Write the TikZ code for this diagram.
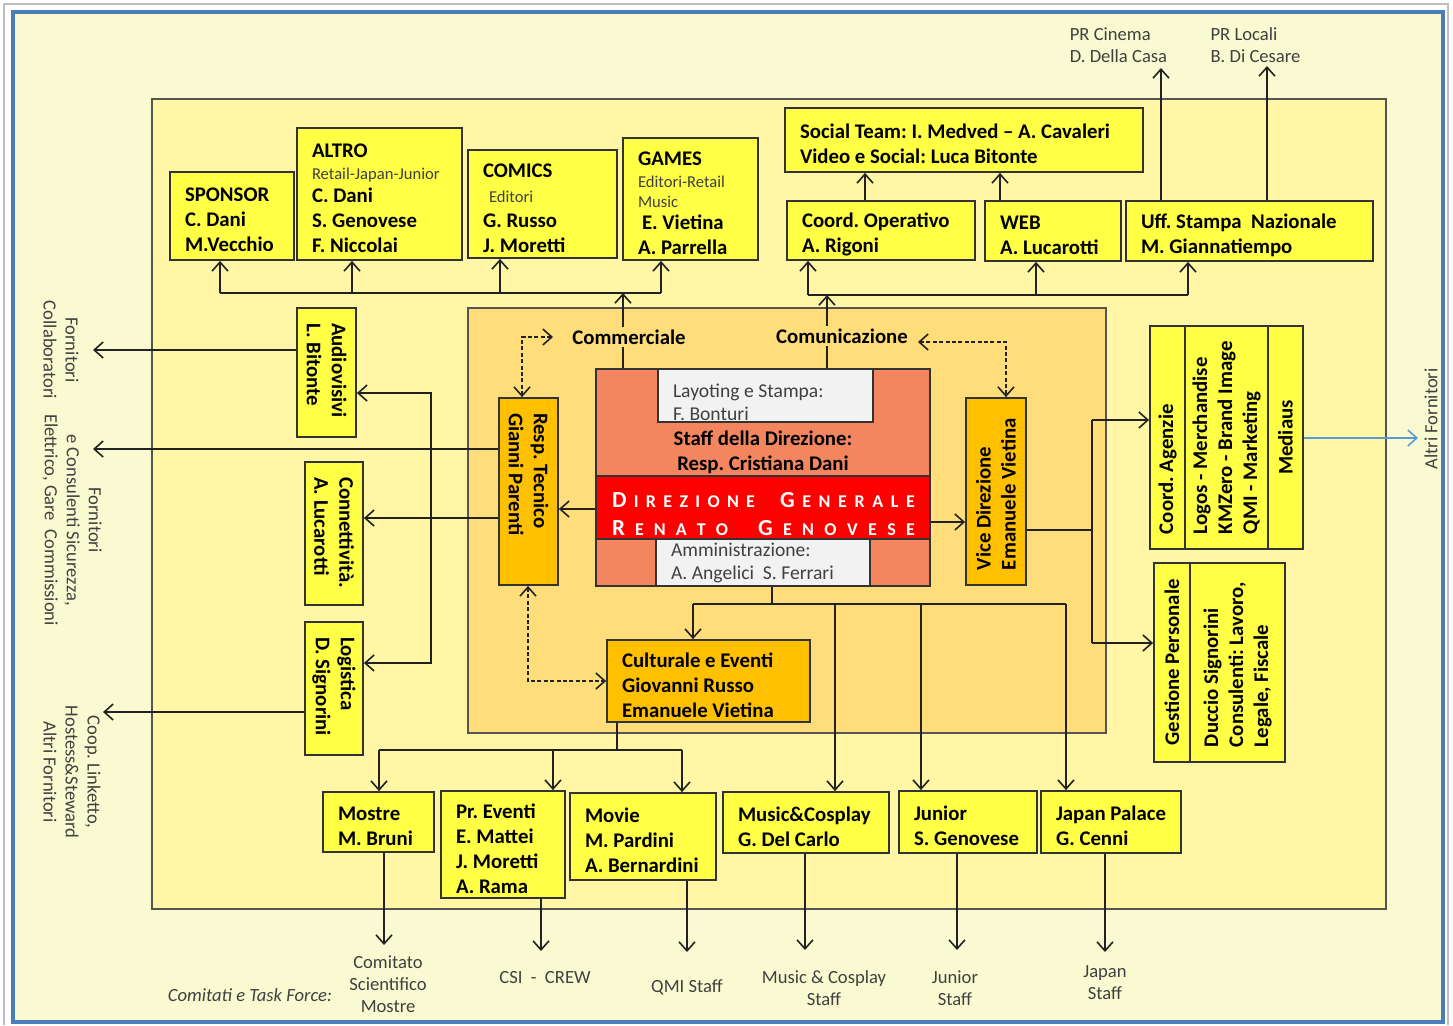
\documentclass[tikz,border=0pt]{standalone}
\usepackage{fontspec}
\setmainfont{Carlito}
\usetikzlibrary{arrows.meta,calc}
\frenchspacing
\definecolor{bgc}{HTML}{FAFAD2}
\definecolor{mainc}{HTML}{FFF6A6}
\definecolor{innc}{HTML}{FFDD7B}
\definecolor{yb}{HTML}{FFFF45}
\definecolor{ob}{HTML}{FFC000}
\definecolor{salm}{HTML}{F4865F}
\definecolor{redc}{HTML}{FF0000}
\definecolor{gy}{HTML}{F2F2F2}
\definecolor{lc}{HTML}{333333}
\definecolor{lk}{HTML}{222222}
\definecolor{tg}{HTML}{404040}
\definecolor{bordc}{HTML}{4A7EBB}
\definecolor{bl}{HTML}{5B9BD5}
\definecolor{mb}{HTML}{555555}
\newcommand\ftbold{\fontsize{10.4}{12.5}\selectfont\bfseries}
\newcommand\ftsmall{\fontsize{8.3}{10}\selectfont\mdseries\color{tg}}
\newcommand\ftgray{\fontsize{9.8}{11.5}\selectfont}
\newcommand\ftlab{\fontsize{9.3}{11}\selectfont}
\newcommand\bx[2]{\parbox{#1}{\raggedright\leftskip=7.5pt\relax #2\par\vskip-4pt}}
\newcommand\bxn[2]{\parbox{#1}{\raggedright\leftskip=7.5pt\relax #2}}
\newcommand\bxb[3]{\parbox[c][#2][b]{#1}{\raggedright\leftskip=7.5pt\relax #3}}
\newcommand\rotl[3]{\rotatebox{#1}{\parbox{#2}{\raggedright\leftskip=7.5pt\relax #3}}}
\newcommand\rotc[3]{\rotatebox{#1}{\parbox{#2}{\centering #3}}}
\newcommand\bigL[1]{{\fontsize{11.5}{14}\selectfont #1}}
\tikzset{
 con/.style={draw=lk, line width=0.8pt},
 arr/.style={con, ->},
 darr/.style={con, dash pattern=on 2pt off 1.2pt, <->},
 barr/.style={draw=bl, line width=0.8pt, ->},
 ybox/.style={draw=lc, line width=0.9pt, fill=yb, inner sep=0pt, font=\ftbold},
 obox/.style={ybox, fill=ob},
 gbox/.style={ybox, fill=gy, font=\ftgray, text=tg},
 lab/.style={font=\ftlab, text=tg, inner sep=1pt},
 blab/.style={font=\ftbold, inner sep=1pt},
}
\begin{document}
\begin{tikzpicture}[x=0.5pt,y=-0.5pt,>={Straight Barb[length=4.5pt,width=8pt]}]
\useasboundingbox (0,0) rectangle (1453,1025);
\fill[white] (0,0) rectangle (1453,1025);
\draw[black!25, line width=0.6pt] (4,1025) -- (4,4) -- (1448,4) -- (1448,1025);
\draw[bordc, line width=1.6pt, fill=bgc] (13,12) rectangle (1443,1022);

% containers
\node[draw=mb, line width=1pt, fill=mainc, minimum width=617pt, minimum height=405pt, inner sep=0pt] (main) at (769,504) {};
\node[draw=mb, line width=1pt, fill=innc, minimum width=319pt, minimum height=212.5pt, inner sep=0pt] (inner) at (787,520.5) {};

% top boxes
\node[ybox, minimum width=62pt, minimum height=44pt] (sponsor) at (232,216) {\bx{62pt}{SPONSOR\\C. Dani\\M.Vecchio}};
\node[ybox, minimum width=82.5pt, minimum height=66pt] (altro) at (379.5,194) {\bx{82.5pt}{ALTRO\\[-1.2pt]{\ftsmall Retail-Japan-Junior}\\[-1.2pt]C. Dani\\S. Genovese\\F. Niccolai}};
\node[ybox, minimum width=74.5pt, minimum height=54pt] (comics) at (542.5,204) {\bx{74.5pt}{COMICS\\\hspace*{3pt}{\ftsmall Editori}\\G. Russo\\J. Moretti}};
\node[ybox, minimum width=67.5pt, minimum height=61pt] (games) at (690.5,199) {\bx{67.5pt}{GAMES\\[-1.5pt]{\ftsmall Editori-Retail}\\[-2.5pt]{\ftsmall Music}\\[-1.5pt]\hspace*{2pt}E. Vietina\\A. Parrella}};
\node[ybox, minimum width=179pt, minimum height=32pt] (social) at (964,140) {\bx{179pt}{Social Team: I. Medved -- A. Cavaleri\\Video e Social: Luca Bitonte}};
\node[ybox, minimum width=94pt, minimum height=29.5pt] (coordop) at (881,230.5) {\bx{94pt}{Coord. Operativo\\A. Rigoni}};
\node[ybox, minimum width=68pt, minimum height=30pt] (web) at (1053,231) {\bx{68pt}{WEB\\A. Lucarotti}};
\node[ybox, minimum width=123.5pt, minimum height=30pt] (uff) at (1249.5,231) {\bx{123.5pt}{Uff. Stampa\ \ Nazionale\\M. Giannatiempo}};

% bottom boxes
\node[ybox, minimum width=55.5pt, minimum height=30pt] (mostre) at (378.5,822) {\bx{55.5pt}{Mostre\\M. Bruni}};
\node[ybox, minimum width=62pt, minimum height=53.5pt] (prev) at (503,844.5) {\bx{62pt}{Pr. Eventi\\E. Mattei\\J. Moretti\\A. Rama}};
\node[ybox, minimum width=73pt, minimum height=43.5pt] (movie) at (643,836.5) {\bx{73pt}{Movie\\M. Pardini\\A. Bernardini}};
\node[ybox, minimum width=83pt, minimum height=30.5pt] (music) at (806,822.5) {\bx{83pt}{Music\&Cosplay\\G. Del Carlo}};
\node[ybox, minimum width=69pt, minimum height=31pt] (junior) at (968,822) {\bx{69pt}{Junior\\S. Genovese}};
\node[ybox, minimum width=70pt, minimum height=31pt] (japan) at (1111,822) {\bx{70pt}{Japan Palace\\G. Cenni}};
\node[obox, minimum width=101.5pt, minimum height=41pt] (cult) at (708.5,681) {\bx{101.5pt}{Culturale e Eventi\\Giovanni Russo\\Emanuele Vietina}};

% rotated boxes
\node[ybox, minimum width=29.5pt, minimum height=64.5pt] (audio) at (326.5,372.5) {\rotl{-90}{64.5pt}{Audiovisivi\\L. Bitonte}};
\node[ybox, minimum width=29pt, minimum height=71.5pt] (conn) at (334,533.5) {\rotl{-90}{71.5pt}{Connettività.\\A. Lucarotti}};
\node[ybox, minimum width=29pt, minimum height=66.5pt] (logi) at (334,688.5) {\rotl{-90}{66.5pt}{Logistica\\D. Signorini}};
\node[obox, minimum width=29.5pt, minimum height=93.5pt] (resp) at (528.5,491.5) {\rotl{-90}{93.5pt}{Resp. Tecnico\\Gianni Parenti}};
\node[obox, minimum width=30pt, minimum height=93.5pt] (vice) at (996,491.5) {\rotl{90}{93.5pt}{Vice Direzione\\Emanuele Vietina}};
\node[ybox, minimum width=17.5pt, minimum height=111.5pt] (agz1) at (1167.5,437.5) {\rotl{90}{111.5pt}{Coord. Agenzie}};
\node[ybox, minimum width=41.5pt, minimum height=111.5pt] (agz2) at (1226.5,437.5) {\rotl{90}{111.5pt}{Logos - Merchandise\\KMZero - Brand Image\\QMI - Marketing}};
\node[ybox, minimum width=17.5pt, minimum height=111.5pt] (agz3) at (1285.5,437.5) {\rotc{90}{111.5pt}{Mediaus}};
\node[ybox, minimum width=18pt, minimum height=99.5pt] (gest1) at (1172,662.5) {\rotc{90}{99.5pt}{Gestione Personale}};
\node[ybox, minimum width=47.5pt, minimum height=99.5pt] (gest2) at (1237.5,662.5) {\rotl{90}{99.5pt}{Duccio Signorini\\Consulenti: Lavoro,\\Legale, Fiscale}};

% direzione block
\node[draw=lc, line width=0.9pt, fill=salm, minimum width=167pt, minimum height=108.5pt, inner sep=0pt] (dir) at (763,477.5) {};
\node[draw=lc, line width=0.9pt, fill=redc, minimum width=167pt, minimum height=31.5pt, inner sep=0pt] (redb) at (763,507.5) {};
\node[text=white, font=\bfseries\fontsize{9}{14}\selectfont, align=center, inner sep=0pt] (dg) at (763.5,514) {\hbox to 151.5pt{\hbox to 71.5pt{\bigL{D}\hfil I\hfil R\hfil E\hfil Z\hfil I\hfil O\hfil N\hfil E}\hfil\hbox to 67.5pt{\bigL{G}\hfil E\hfil N\hfil E\hfil R\hfil A\hfil L\hfil E}}\\\hbox to 151.5pt{\hbox to 58pt{\bigL{R}\hfil E\hfil N\hfil A\hfil T\hfil O}\hfil\hbox to 78.5pt{\bigL{G}\hfil E\hfil N\hfil O\hfil V\hfil E\hfil S\hfil E}}};
\node[gbox, minimum width=107.5pt, minimum height=26.5pt] (lay) at (765.5,395.5) {\bxb{107.5pt}{25.5pt}{Layoting e Stampa:\\F. Bonturi}};
\node[gbox, minimum width=107pt, minimum height=23.5pt] (amm) at (763,562.5) {\bxn{107pt}{Amministrazione:\\A. Angelici\ \ S. Ferrari}};
\node[font=\ftbold, align=center, inner sep=0pt] (staff) at (763,452) {Staff della Direzione:\\Resp. Cristiana Dani};
\node[blab] (comm) at (629,337) {Commerciale};
\node[blab] (comu) at (842,336) {Comunicazione};

% outside labels
\node[lab, align=left] (prc) at (1118.5,45) {PR Cinema\\D. Della Casa};
\node[lab, align=left] (prl) at (1255.5,45) {PR Locali\\B. Di Cesare};
\node[lab, align=center, rotate=-90] (l1) at (61,350) {Fornitori\\Collaboratori};
\node[lab, align=center, rotate=-90] (l2) at (72,520) {Fornitori\\e Consulenti Sicurezza,\\Elettrico, Gare\ \ Commissioni};
\node[lab, align=center, rotate=-90] (l3) at (72,772) {Coop. Linketto,\\Hostess\&Steward\\Altri Fornitori};
\node[lab, rotate=90] (l4) at (1431,419) {Altri Fornitori};
\node[lab, align=center] (b1) at (388,984) {Comitato\\Scientifico\\Mostre};
\node[lab] (b2) at (545,978) {CSI\ \ -\ \ CREW};
\node[lab] (b3) at (687,987) {QMI Staff};
\node[lab, align=center] (b4) at (824,988) {Music \& Cosplay\\Staff};
\node[lab, align=center] (b5) at (955,988) {Junior\\Staff};
\node[lab, align=center] (b6) at (1105,983) {Japan\\Staff};
\node[lab, font=\ftlab\itshape] (b0) at (250,995) {Comitati e Task Force:};

% commerciale bus
\coordinate (cb1) at (220,293);
\coordinate (cb2) at (352,293);
\coordinate (cb3) at (500,293);
\coordinate (cb4) at (661,293);
\coordinate (cbm) at (623,293);
\draw[con] (cb1) -- (cb4);
\draw[arr] (cb1) -- (cb1 |- sponsor.south);
\draw[arr] (cb2) -- (cb2 |- altro.south);
\draw[arr] (cb3) -- (cb3 |- comics.south);
\draw[arr] (cb4) -- (cb4 |- games.south);
\draw[con] (cbm |- dir.north) -- (cbm |- comm.south);
\draw[arr] (cbm |- comm.north) -- (cbm);

% comunicazione bus
\coordinate (mb1) at (808,295);
\coordinate (mb2) at (1036,295);
\coordinate (mb3) at (1188,295);
\coordinate (mbm) at (827,295);
\draw[con] (mb1) -- (mb3);
\draw[arr] (mb1) -- (mb1 |- coordop.south);
\draw[arr] (mb2) -- (mb2 |- web.south);
\draw[arr] (mb3) -- (mb3 |- uff.south);
\draw[con] (mbm |- dir.north) -- (mbm |- comu.south);
\draw[arr] (mbm |- comu.north) -- (mbm);

% social team and PR
\coordinate (xs1) at (865,185);
\coordinate (xs2) at (1000,185);
\draw[arr] (xs1 |- coordop.north) -- (xs1 |- social.south);
\draw[arr] (xs2 |- web.north) -- (xs2 |- social.south);
\coordinate (pr1) at (1161,68);
\coordinate (pr2) at (1267,66);
\draw[arr] (pr1 |- uff.north) -- (pr1);
\draw[arr] (pr2 |- uff.north) -- (pr2);

% left side
\coordinate (fa1) at (93,350);
\draw[arr] (audio.west |- fa1) -- (fa1);
\coordinate (fa2) at (93,449);
\draw[arr] (resp.west |- fa2) -- (fa2);
\coordinate (ja) at (431,449);
\coordinate (ja1) at (431,393);
\coordinate (ja2) at (431,663);
\draw[arr] (ja) -- (ja1) -- (audio.east |- ja1);
\draw[arr] (ja) -- (ja2) -- (logi.east |- ja2);
\coordinate (yc) at (450,518);
\draw[arr] (resp.west |- yc) -- (conn.east |- yc);
\coordinate (fa3) at (103,712);
\draw[arr] (logi.west |- fa3) -- (fa3);

% direzione links
\coordinate (yr) at (580,509);
\draw[arr] (dir.west |- yr) -- (resp.east |- yr);
\coordinate (yv) at (950,522);
\draw[arr] (dir.east |- yv) -- (vice.west |- yv);

% dashed links
\coordinate (d1) at (522,337);
\coordinate (d1e) at (553,337);
\draw[darr] (d1 |- resp.north) -- (d1) -- (d1e);
\coordinate (d2) at (1006,342);
\coordinate (d2e) at (918,342);
\draw[darr] (d2e) -- (d2) -- (d2 |- vice.north);
\coordinate (d3) at (528,681);
\draw[darr] (d3 |- resp.south) -- (d3) -- (cult.west |- d3);

% direzione bottom distribution
\coordinate (jd) at (772,604);
\coordinate (jl) at (693,604);
\coordinate (jr) at (1066,604);
\coordinate (j835) at (835,604);
\coordinate (j921) at (921,604);
\draw[con] (jd |- dir.south) -- (jd);
\draw[con] (jl) -- (jr);
\draw[arr] (jl) -- (jl |- cult.north);
\draw[arr] (j835) -- (j835 |- music.north);
\draw[arr] (j921) -- (j921 |- junior.north);
\draw[arr] (jr) -- (jr |- japan.north);

% culturale distribution
\coordinate (jc) at (617,750);
\coordinate (jc1) at (379,750);
\coordinate (jc2) at (553,750);
\coordinate (jc3) at (682,750);
\draw[con] (jc |- cult.south) -- (jc);
\draw[con] (jc1) -- (jc3);
\draw[arr] (jc1) -- (jc1 |- mostre.north);
\draw[arr] (jc2) -- (jc2 |- prev.north);
\draw[arr] (jc3) -- (jc3 |- movie.north);

% bottom outputs
\coordinate (o1) at (384,945);
\coordinate (o2) at (541,951);
\coordinate (o3) at (687,952);
\coordinate (o4) at (805,950);
\coordinate (o5) at (957,950);
\coordinate (o6) at (1105,952);
\draw[arr] (o1 |- mostre.south) -- (o1);
\draw[arr] (o2 |- prev.south) -- (o2);
\draw[arr] (o3 |- movie.south) -- (o3);
\draw[arr] (o4 |- music.south) -- (o4);
\draw[arr] (o5 |- junior.south) -- (o5);
\draw[arr] (o6 |- japan.south) -- (o6);

% vice direzione right
\coordinate (jv) at (1092,530);
\coordinate (jv1) at (1092,420);
\coordinate (jv2) at (1092,643);
\draw[con] (vice.east |- jv) -- (jv);
\draw[con] (jv1) -- (jv2);
\draw[arr] (jv1) -- (agz1.west |- jv1);
\draw[arr] (jv2) -- (gest1.west |- jv2);

% mediaus
\coordinate (fb) at (1418,438);
\draw[barr] (agz3.east |- fb) -- (fb);
\end{tikzpicture}
\end{document}
